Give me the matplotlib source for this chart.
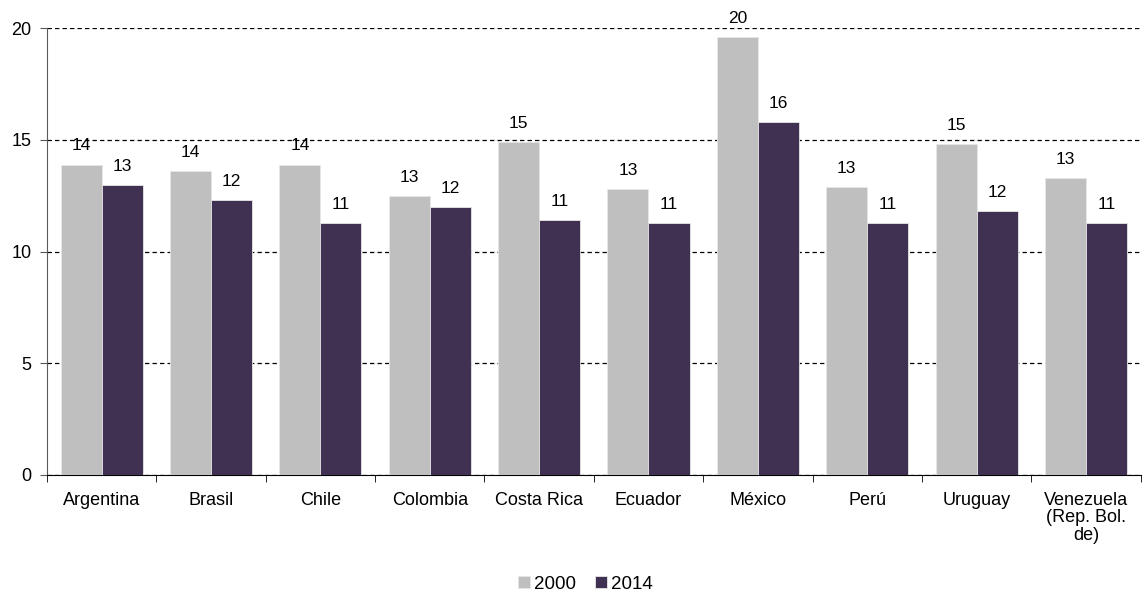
import numpy as np
import matplotlib.pyplot as plt

plt.rcParams['font.family'] = ['Liberation Sans', 'DejaVu Sans']

countries = ['Argentina', 'Brasil', 'Chile', 'Colombia', 'Costa Rica', 'Ecuador',
             'México', 'Perú', 'Uruguay', 'Venezuela\n(Rep. Bol.\nde)']
vals_2000 = [13.9, 13.6, 13.9, 12.5, 14.9, 12.8, 19.6, 12.9, 14.8, 13.3]
vals_2014 = [13.0, 12.3, 11.3, 12.0, 11.4, 11.3, 15.8, 11.3, 11.8, 11.3]
labels_2000 = ['14', '14', '14', '13', '15', '13', '20', '13', '15', '13']
labels_2014 = ['13', '12', '11', '12', '11', '11', '16', '11', '12', '11']
years = ['2000', '2014']
colors = ['#bfbfbf', '#403152']

fig = plt.figure(figsize=(11.43, 5.95), dpi=100)
ax = fig.add_axes([0.041, 0.2017, 0.957, 0.7507])

x = np.arange(len(countries))
w = 0.375
series = [(vals_2000, labels_2000), (vals_2014, labels_2014)]
for k, ((vals, labs), yr, col) in enumerate(zip(series, years, colors)):
    pos = x - w / 2 + k * w
    bars = ax.bar(pos, vals, width=w, color=col, label=yr, zorder=3,
                  edgecolor='#e6e6e6', linewidth=0.6)
    for b, v, t in zip(bars, vals, labs):
        ax.annotate(t, (b.get_x() + b.get_width() / 2, v),
                    xytext=(0, 8), textcoords='offset points',
                    ha='center', va='bottom', fontsize=12.5, color='black')

ax.set_xlim(-0.5, len(countries) - 0.5)
ax.set_ylim(0, 20)
ax.set_yticks([0, 5, 10, 15, 20])
ax.yaxis.grid(True, linestyle=(0, (3.5, 2.5)), color='black', linewidth=0.9, zorder=0)

ax.set_xticks(x)
ax.set_xticklabels(countries, fontsize=13, linespacing=1.05)
ax.set_xticks(np.arange(len(countries) + 1) - 0.5, minor=True)
ax.tick_params(axis='x', which='major', length=0, pad=12)
ax.tick_params(axis='x', which='minor', length=5, direction='out', color='black')
ax.tick_params(axis='y', length=5, direction='out', labelsize=13, color='#595959', pad=6)

for s in ['top', 'right']:
    ax.spines[s].set_visible(False)
ax.spines['left'].set_color('#595959')
ax.spines['bottom'].set_color('black')

fig.legend(loc='center', bbox_to_anchor=(0.512, 0.018), ncol=2, frameon=False,
           fontsize=13.5, handlelength=0.65, handleheight=0.65, handletextpad=0.2,
           columnspacing=1.0, borderpad=0)

fig.savefig('out.png', dpi=100)
